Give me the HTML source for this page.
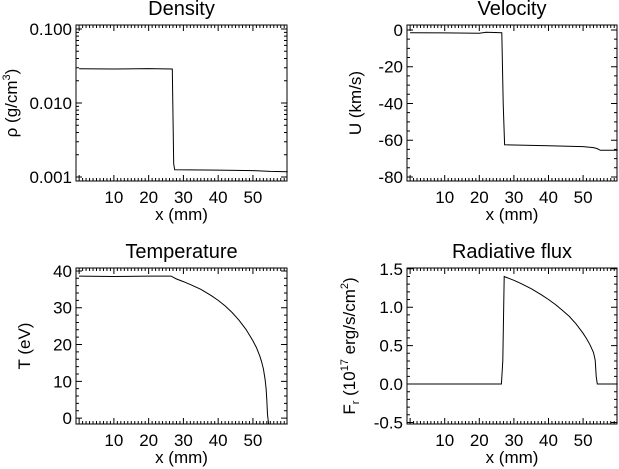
<!DOCTYPE html>
<html><head><meta charset="utf-8"><style>
html,body{margin:0;padding:0;background:#fff}
svg{display:block;font-family:"Liberation Sans",sans-serif}
</style></head><body>
<svg id="c" width="619" height="469" viewBox="0 0 619 469"></svg>
<script>
const xTicks=[10,20,30,40,50];
const densX=[0,10,20,26.8,27.2,27.5,40,50,55,60];
const densY=[0.029,0.0288,0.0292,0.0288,0.0015,0.00125,0.00124,0.00122,0.00119,0.00118];
const velX=[0,10,20,22,26.5,26.9,27.3,40,50,53,54,55,60];
const velY=[-1.5,-1.6,-1.8,-1.2,-1.5,-40,-62.5,-63,-63.5,-64,-64.5,-65.5,-65.5];
const tempX=[0,10,20,26.5,27,28,30,32,35,38,40,42,44,46,48,50,51,52,52.5,53,53.5,53.8,54,54.2,54.5,60];
const tempY=[38.6,38.5,38.6,38.6,38.3,37.8,37.1,36.3,35,33.3,32,30.5,28.7,26.6,24.1,21,19.2,16.8,15.3,13.4,10.5,8,5,1,-1.6,-1.6];
const fluxX=[0,26.4,26.8,27.2,28,30,32,35,38,40,42,44,46,48,50,51,52,53,53.5,53.8,54.1,60];
const fluxY=[0,0,0.3,1.40,1.385,1.35,1.31,1.24,1.16,1.10,1.035,0.96,0.88,0.78,0.66,0.59,0.51,0.41,0.31,0.10,0,0];
const panels=[
 {name:'density',title:'Density',box:[76,25,287,181],yd:[0.1*Math.pow(10,0.054),0.001/Math.pow(10,0.054)],log:true,yt:[0.1,0.01,0.001],ytl:['0.100','0.010','0.001'],xs:densX,ys:densY,yl:'ρ (g/cm<tspan dy="-7" font-size="11">3</tspan><tspan dy="7">)</tspan>'},
 {name:'velocity',title:'Velocity',box:[407,25,617,181],yd:[2.7,-82.2],yt:[0,-20,-40,-60,-80],ytl:['0','-20','-40','-60','-80'],minor:5,xs:velX,ys:velY,yl:'U (km/s)'},
 {name:'temperature',title:'Temperature',box:[76,268,287,424],yd:[40.8,-1.6],yt:[0,10,20,30,40],ytl:['0','10','20','30','40'],minor:2,xs:tempX,ys:tempY,yl:'T (eV)'},
 {name:'radiative-flux',title:'Radiative flux',box:[407,268,617,424],yd:[1.51,-0.52],yt:[-0.5,0,0.5,1,1.5],ytl:['-0.5','0.0','0.5','1.0','1.5'],minor:0.1,xs:fluxX,ys:fluxY,yl:'F<tspan dy="4" font-size="11">r</tspan><tspan dy="-4"> (10</tspan><tspan dy="-7" font-size="11">17</tspan><tspan dy="7"> erg/s/cm</tspan><tspan dy="-7" font-size="11">2</tspan><tspan dy="7">)</tspan>'}
];
const svg=document.getElementById('c');
const NS='http://www.w3.org/2000/svg';
function mk(t,a,p){const e=document.createElementNS(NS,t);for(const k in a)e.setAttribute(k,a[k]);(p||svg).appendChild(e);return e;}
const XD=[-0.9,59.8];
panels.forEach(P=>{
 const [l,t,r,b]=P.box;
 const g=mk('g',{});
 
 
 const sx=v=>l+(v-XD[0])/(XD[1]-XD[0])*(r-l);
 const tr=v=>P.log?Math.log10(v):v;
 const sy=v=>t+(tr(P.yd[0])-tr(v))/(tr(P.yd[0])-tr(P.yd[1]))*(b-t);
 const ti=mk('text',{x:(l+r)/2,y:t-10,'text-anchor':'middle','font-size':20},g);ti.textContent=P.title;
 
 
 const fr=mk('rect',{x:l,y:t,width:r-l,height:b-t,fill:'none',stroke:'#000','stroke-width':1},g);
 
 
 let d='';
 for(let v=0;v<=60;v+=1){if(v<XD[0]||v>XD[1])continue;const x=sx(v);const L=v%10===0?6:3;d+=`M${x},${b}v${-L}M${x},${t}v${L}`;}
 xTicks.forEach(v=>{const e=mk('text',{x:sx(v),y:b+22,'text-anchor':'middle','font-size':17},g);e.textContent=v;
  
  });
 if(P.log){[-3,-2].forEach(p=>{for(let m=1;m<=9;m++){const v=m*Math.pow(10,p);const y=sy(v);const L=m===1?6:3;d+=`M${l},${y}h${L}M${r},${y}h${-L}`;}});d+=`M${l},${sy(0.1)}h6M${r},${sy(0.1)}h-6`;}
 else{const lo=Math.min(...P.yd),hi=Math.max(...P.yd);const st=P.minor;const s0=Math.ceil(lo/st-1e-6);
  for(let k=s0;k*st<=hi+1e-9;k++){const v=k*st;const y=sy(v);const maj=P.yt.some(q=>Math.abs(q-v)<1e-6);const L=maj?6:3;d+=`M${l},${y}h${L}M${r},${y}h${-L}`;}}
 mk('path',{d:d,stroke:'#000','stroke-width':1,fill:'none'},g);
 P.yt.forEach((v,i)=>{const e=mk('text',{x:l-4,y:sy(v)+6,'text-anchor':'end','font-size':17},g);e.textContent=P.ytl[i];
  
  });
 const xl=mk('text',{x:(l+r)/2,y:b+39,'text-anchor':'middle','font-size':17},g);xl.textContent='x (mm)';
 
 
 const yx=l-(P.log?59:46)+(P.name==='radiative-flux'?-6:0),yy=(t+b)/2;
 const yl=mk('text',{x:yx,y:yy,'text-anchor':'middle','font-size':17,transform:`rotate(-90 ${yx} ${yy})`},g);yl.innerHTML=P.yl;
 
 
 const pts=P.xs.map((x,i)=>sx(x).toFixed(1)+','+sy(P.ys[i]).toFixed(1)).join(' ');
 const ln=mk('polyline',{points:pts,fill:'none',stroke:'#000','stroke-width':1},g);
 
 
});
</script>
</body></html>
